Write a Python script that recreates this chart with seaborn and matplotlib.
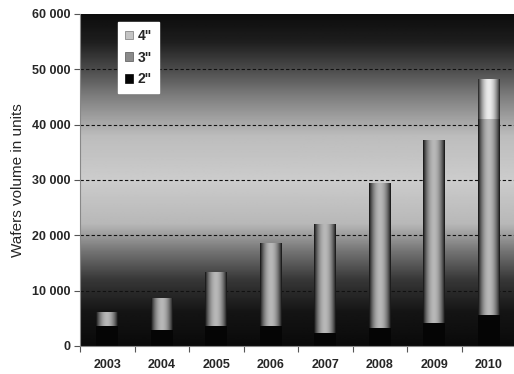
import numpy as np
import pandas as pd
import seaborn as sns
import matplotlib.pyplot as plt
from matplotlib.patches import Patch
from matplotlib.ticker import FuncFormatter, FixedLocator

years = ['2003', '2004', '2005', '2006', '2007', '2008', '2009', '2010']
wafers_2in = [3700, 2900, 3700, 3700, 2400, 3300, 4200, 5600]
wafers_3in = [2400, 5700, 9500, 14900, 19500, 26000, 33000, 35300]
wafers_4in = [0, 0, 0, 0, 0, 0, 0, 7200]
legend_labels = ['4"', '3"', '2"']
y_label = 'Wafers volume in units'


def cylinder(lo, hi, n=64):
    t = np.linspace(0, 1, n)
    return (lo + (hi - lo) * np.sin(np.pi * t) ** 0.8)[None, :]


df = pd.DataFrame({'year': years,
                   'h2': wafers_2in,
                   'h3': np.add(wafers_2in, wafers_3in),
                   'h4': np.add(np.add(wafers_2in, wafers_3in), wafers_4in)})

sns.set_style("white")
plt.rcParams['font.family'] = ['Liberation Sans', 'DejaVu Sans']

fig = plt.figure(figsize=(5.14, 3.74), dpi=100)
ax = fig.add_axes([80 / 514, 1 - 346 / 374, 434 / 514, 332 / 374])

groups = []
for col, color in [('h4', '#d8d8d8'), ('h3', '#999999'), ('h2', '#050505')]:
    n0 = len(ax.patches)
    sns.barplot(data=df, x='year', y=col, color=color, width=0.4,
                saturation=1, ax=ax, linewidth=0)
    groups.append(ax.patches[n0:])

xlim = (-0.5, 7.463)
ylim = (0, 60000)

# background gradient (dark top, light middle, dark bottom)
ys = np.array([0, 6000, 12000, 17000, 22000, 30000, 38000, 45000, 50000, 55000, 60000])
vs = np.array([0.04, 0.08, 0.22, 0.45, 0.72, 0.80, 0.74, 0.50, 0.30, 0.12, 0.05])
yy = np.linspace(0, 60000, 300)
bg = np.interp(yy, ys, vs)[:, None]
ax.imshow(bg, extent=[xlim[0], xlim[1], 0, 60000], origin='lower', cmap='gray',
          vmin=0, vmax=1, aspect='auto', zorder=0)

# cylinder shading on bars
for patches, (lo, hi), z in [(groups[0], (0.12, 0.92), 2), (groups[1], (0.06, 0.72), 3)]:
    for p in patches:
        if p.get_height() <= 0:
            continue
        x0, y0 = p.get_x(), p.get_y()
        w, h = p.get_width(), p.get_height()
        p.set_visible(False)
        ax.imshow(cylinder(lo, hi), extent=[x0, x0 + w, y0, y0 + h], cmap='gray',
                  vmin=0, vmax=1, aspect='auto', zorder=z)
for p in groups[2]:
    p.set_zorder(4)

ax.set_xlim(*xlim)
ax.set_ylim(*ylim)

ax.set_yticks(np.arange(0, 60001, 10000))
ax.yaxis.set_major_formatter(FuncFormatter(lambda v, _: f"{int(v):,}".replace(',', ' ')))
for yv in range(10000, 60000, 10000):
    ax.axhline(yv, color='#111111', lw=0.8, ls=(0, (3, 2)), zorder=1.5)

ax.xaxis.set_minor_locator(FixedLocator(np.arange(-0.5, 8.0, 1.0)))
ax.tick_params(axis='x', which='major', length=0, pad=9, labelsize=9)
ax.tick_params(axis='x', which='minor', length=4, width=0.8, color='#555555', direction='out')
ax.tick_params(axis='y', length=4, width=0.8, color='#555555', direction='out', pad=3, labelsize=9)
ax.tick_params(bottom=True, left=True, which='both')
for lab in ax.get_xticklabels() + ax.get_yticklabels():
    lab.set_fontweight('bold')

for s in ['top', 'right']:
    ax.spines[s].set_visible(False)
for s in ['left', 'bottom']:
    ax.spines[s].set_color('#888888')
    ax.spines[s].set_linewidth(0.8)
    ax.spines[s].set_zorder(5)

ax.set_xlabel('')
ax.set_ylabel(y_label, fontsize=11, labelpad=5)

handles = [Patch(facecolor='#c4c4c4', edgecolor='#777777', lw=0.5),
           Patch(facecolor='#8a8a8a', edgecolor='#555555', lw=0.5),
           Patch(facecolor='#050505', edgecolor='#050505', lw=0.5)]
leg = ax.legend(handles, legend_labels, loc='upper left',
                bbox_to_anchor=((118 - 80) / 434, (346 - 22) / 332),
                prop={'weight': 'bold', 'size': 10}, frameon=True, fancybox=False,
                framealpha=1, edgecolor='white', handlelength=0.6, handleheight=0.6,
                handletextpad=0.3, labelspacing=0.55, borderpad=0.5, borderaxespad=0)
leg.set_zorder(6)

fig.savefig('out.png', dpi=100)
